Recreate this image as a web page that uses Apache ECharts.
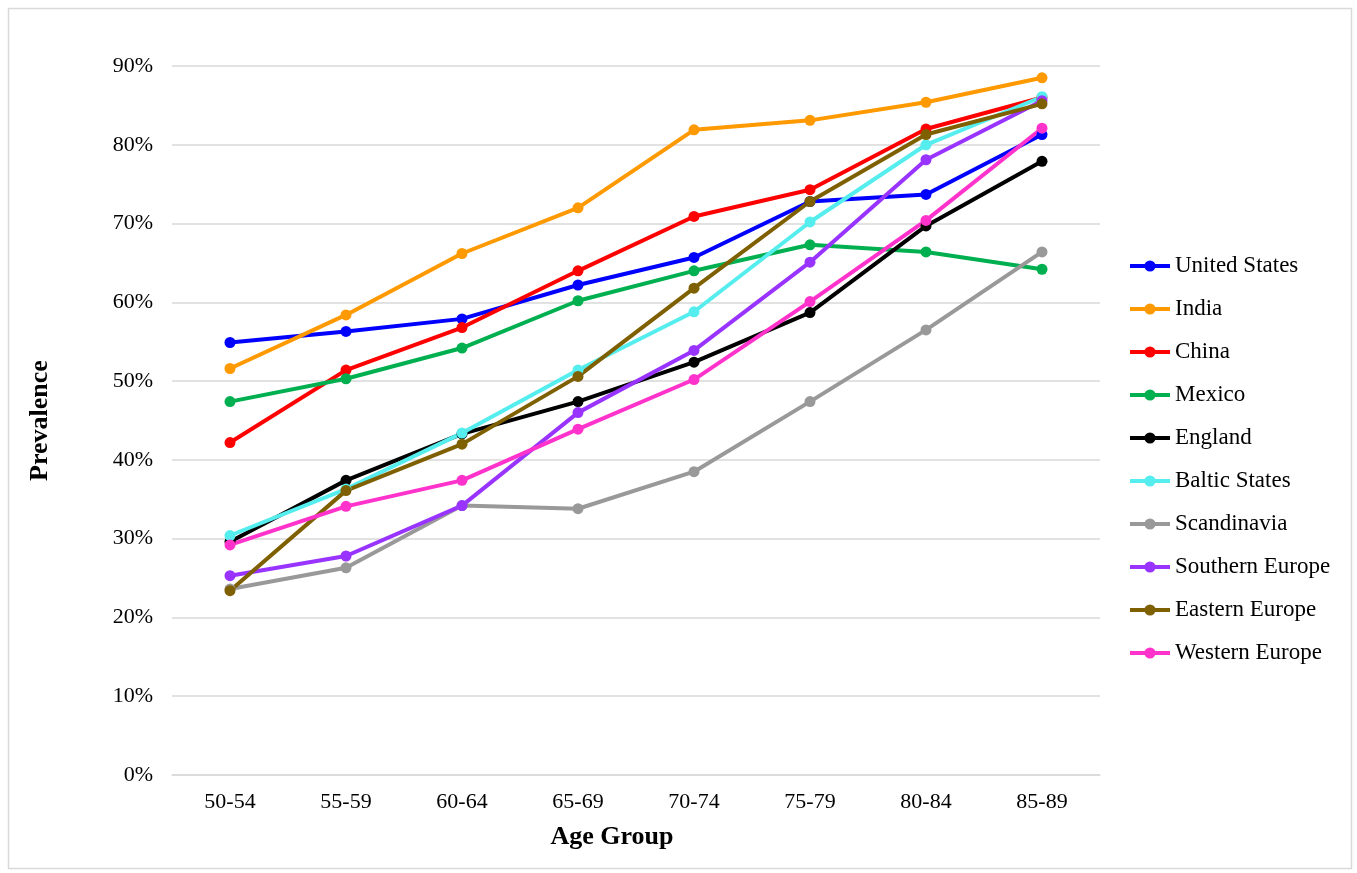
<!DOCTYPE html>
<html>
<head>
<meta charset="utf-8">
<title>Prevalence by Age Group</title>
<script src="https://cdn.jsdelivr.net/npm/echarts@6/dist/echarts.min.js"></script>
<style>
  html, body { margin: 0; padding: 0; background: #ffffff; }
  #chart { width: 1357px; height: 873px; }
</style>
</head>
<body>
<div id="chart"></div>
<script>
// Age groups on the x axis
const ageGroups = ['50-54', '55-59', '60-64', '65-69', '70-74', '75-79', '80-84', '85-89'];

// Prevalence (fraction) per region, one value per age group
const unitedStates   = [0.549, 0.563, 0.579, 0.622, 0.657, 0.728, 0.737, 0.813];
const india          = [0.516, 0.584, 0.662, 0.720, 0.819, 0.831, 0.854, 0.885];
const china          = [0.422, 0.514, 0.568, 0.640, 0.709, 0.743, 0.820, 0.860];
const mexico         = [0.474, 0.503, 0.542, 0.602, 0.640, 0.673, 0.664, 0.642];
const england        = [0.296, 0.374, 0.433, 0.474, 0.524, 0.587, 0.697, 0.779];
const balticStates   = [0.304, 0.363, 0.434, 0.514, 0.588, 0.702, 0.800, 0.861];
const scandinavia    = [0.236, 0.263, 0.342, 0.338, 0.385, 0.474, 0.565, 0.664];
const southernEurope = [0.253, 0.278, 0.342, 0.460, 0.539, 0.651, 0.781, 0.856];
const easternEurope  = [0.234, 0.361, 0.420, 0.506, 0.618, 0.728, 0.813, 0.852];
const westernEurope  = [0.292, 0.341, 0.374, 0.439, 0.502, 0.601, 0.704, 0.821];

// Y axis ticks
const yMin = 0;
const yMax = 0.9;
const yStep = 0.1;

const regions = [
  { name: 'United States',   data: unitedStates,   color: '#0000FF' },
  { name: 'India',           data: india,          color: '#FF9900' },
  { name: 'China',           data: china,          color: '#FF0000' },
  { name: 'Mexico',          data: mexico,         color: '#00B050' },
  { name: 'England',         data: england,        color: '#000000' },
  { name: 'Baltic States',   data: balticStates,   color: '#55EDED' },
  { name: 'Scandinavia',     data: scandinavia,    color: '#999999' },
  { name: 'Southern Europe', data: southernEurope, color: '#9933FF' },
  { name: 'Eastern Europe',  data: easternEurope,  color: '#7F6000' },
  { name: 'Western Europe',  data: westernEurope,  color: '#FF33CC' }
];

const serif = '"Liberation Serif", "Times New Roman", serif';

const chart = echarts.init(document.getElementById('chart'), null, { renderer: 'canvas' });

chart.setOption({
  backgroundColor: '#ffffff',
  animation: false,
  textStyle: { fontFamily: serif, color: '#000000' },
  graphic: [{
    type: 'rect',
    left: 6, top: 6,
    shape: { width: 1343, height: 860 },
    style: { fill: 'none', stroke: '#d9d9d9', lineWidth: 1.5 },
    silent: true
  }],
  grid: { left: 172, right: 257, top: 66, bottom: 98, containLabel: false },
  legend: {
    orient: 'vertical',
    left: 1123,
    top: 249,
    itemWidth: 40,
    itemHeight: 14,
    itemGap: 19,
    data: regions.map(r => r.name),
    lineStyle: { width: 4 },
    textStyle: { fontFamily: serif, fontSize: 23, color: '#000000', lineHeight: 24 }
  },
  xAxis: {
    type: 'category',
    data: ageGroups,
    boundaryGap: true,
    name: 'Age Group',
    nameLocation: 'middle',
    nameGap: 49,
    nameTextStyle: {
      fontFamily: serif, fontSize: 26, fontWeight: 'bold', color: '#000000',
      padding: [0, 48, 0, 0]
    },
    axisLine: { show: true, lineStyle: { color: '#d9d9d9', width: 1.5 } },
    axisTick: { show: false },
    axisLabel: { fontFamily: serif, fontSize: 22, color: '#000000', margin: 16 },
    splitLine: { show: false }
  },
  yAxis: {
    type: 'value',
    min: yMin,
    max: yMax,
    interval: yStep,
    name: 'Prevalence',
    nameLocation: 'middle',
    nameGap: 119,
    nameRotate: 90,
    nameTextStyle: { fontFamily: serif, fontSize: 26, fontWeight: 'bold', color: '#000000' },
    axisLine: { show: false },
    axisTick: { show: false },
    axisLabel: {
      fontFamily: serif, fontSize: 22, color: '#000000', margin: 19,
      formatter: v => Math.round(v * 100) + '%'
    },
    splitLine: { show: true, lineStyle: { color: '#d9d9d9', width: 1.5 } }
  },
  series: regions.map(r => ({
    name: r.name,
    type: 'line',
    data: r.data,
    color: r.color,
    symbol: 'circle',
    symbolSize: 11,
    lineStyle: { width: 4, color: r.color },
    itemStyle: { color: r.color },
    emphasis: { disabled: true }
  }))
});
</script>
</body>
</html>
